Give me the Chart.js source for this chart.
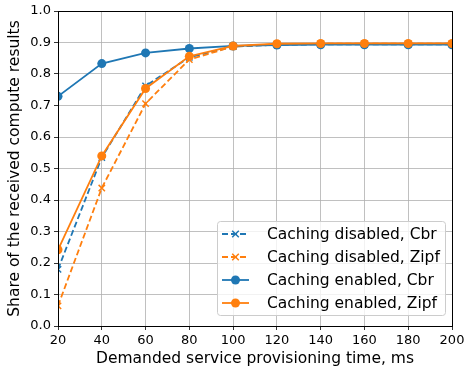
<!DOCTYPE html>
<html><head><meta charset="utf-8">
<script src="https://cdn.jsdelivr.net/npm/chart.js@4/dist/chart.umd.min.js"></script>
<style>html,body{margin:0;padding:0;background:#fff}#wrap{width:464px;height:371px}</style>
</head><body><div id="wrap"><canvas id="c" width="464" height="371"></canvas></div>
<script>
const times = [20, 40, 60, 80, 100, 120, 140, 160, 180, 200];
const disabledCbr  = [0.180, 0.535, 0.762, 0.853, 0.887, 0.893, 0.894, 0.894, 0.894, 0.894];
const disabledZipf = [0.064, 0.438, 0.706, 0.846, 0.887, 0.895, 0.896, 0.896, 0.896, 0.896];
const enabledCbr   = [0.729, 0.833, 0.867, 0.881, 0.889, 0.892, 0.893, 0.893, 0.893, 0.893];
const enabledZipf  = [0.242, 0.540, 0.754, 0.856, 0.889, 0.896, 0.897, 0.897, 0.897, 0.897];
const xTicks = [20, 40, 60, 80, 100, 120, 140, 160, 180, 200];
const yTicks = [0.0, 0.1, 0.2, 0.3, 0.4, 0.5, 0.6, 0.7, 0.8, 0.9, 1.0];
const seriesNames = ["Caching disabled, Cbr", "Caching disabled, Zipf", "Caching enabled, Cbr", "Caching enabled, Zipf"];

const BLUE = "#1f77b4", ORANGE = "#ff7f0e";
const FONT = "'DejaVu Sans', sans-serif";
function pts(arr){ return times.map((t,i)=>({x:t,y:arr[i]})); }
function ds(label, arr, color, dashed, marker, order){
  return {label, data: pts(arr), borderColor: color, backgroundColor: color,
    borderWidth: 1.8, borderDash: dashed ? [6,3] : [], pointStyle: marker,
    pointRadius: 4.5, pointBorderWidth: marker==='circle'?0:1.5,
    pointBorderColor: color, pointBackgroundColor: color, fill:false, tension:0, order};
}
const datasets = [
  ds(seriesNames[0], disabledCbr, BLUE, true, 'crossRot', 4),
  ds(seriesNames[1], disabledZipf, ORANGE, true, 'crossRot', 3),
  ds(seriesNames[2], enabledCbr, BLUE, false, 'circle', 2),
  ds(seriesNames[3], enabledZipf, ORANGE, false, 'circle', 1),
];

const framePlugin = {
  id: 'frame',
  afterDatasetsDraw(chart){
    const {ctx, chartArea:a} = chart;
    ctx.save();
    ctx.strokeStyle = '#000'; ctx.lineWidth = 1;
    ctx.strokeRect(Math.round(a.left)+0.5, Math.round(a.top)+0.5, Math.round(a.right-a.left), Math.round(a.bottom-a.top));
    ctx.restore();
  },
  afterDraw(chart){
    const {ctx, chartArea:a} = chart;
    const rowH = 23, boxW = 228, boxH = 94;
    const bx = a.right - 7 - boxW, by = a.bottom - 11 - boxH;
    ctx.save();
    ctx.fillStyle = 'rgba(255,255,255,0.8)';
    ctx.strokeStyle = '#cccccc'; ctx.lineWidth = 1;
    ctx.beginPath();
    if (ctx.roundRect) ctx.roundRect(bx+0.5, by+0.5, boxW, boxH, 3); else ctx.rect(bx+0.5, by+0.5, boxW, boxH);
    ctx.fill(); ctx.stroke();
    chart.data.datasets.forEach((d,i)=>{
      const cy = by + 13 + i*rowH;
      ctx.strokeStyle = d.borderColor; ctx.lineWidth = d.borderWidth;
      ctx.setLineDash(d.borderDash);
      ctx.beginPath(); ctx.moveTo(bx+5, cy); ctx.lineTo(bx+32, cy); ctx.stroke();
      ctx.setLineDash([]);
      const mx = bx+18.5;
      if (d.pointStyle === 'circle'){
        ctx.fillStyle = d.borderColor; ctx.beginPath(); ctx.arc(mx, cy, 4.5, 0, Math.PI*2); ctx.fill();
      } else {
        ctx.lineWidth = 1.5; const r = 3.3;
        ctx.beginPath(); ctx.moveTo(mx-r,cy-r); ctx.lineTo(mx+r,cy+r); ctx.moveTo(mx-r,cy+r); ctx.lineTo(mx+r,cy-r); ctx.stroke();
      }
      ctx.fillStyle = '#000'; ctx.font = "15.5px " + FONT; ctx.textBaseline = 'middle'; ctx.textAlign='left';
      ctx.fillText(d.label, bx+50, cy+1);
    });
    ctx.restore();
  }
};

new Chart(document.getElementById('c'), {
  type: 'line',
  data: { datasets },
  options: {
    responsive: false, animation: false, devicePixelRatio: 1,
    layout: { padding: { top: 11, right: 12, left: 0, bottom: 0 } },
    plugins: { legend: { display: false }, tooltip: { enabled: false } },
    scales: {
      x: {
        type: 'linear', min: 20, max: 200,
        afterFit(s){ s.height = 45; s.paddingRight = 0; s.paddingLeft = 0; },
        afterBuildTicks(s){ s.ticks = xTicks.map(v=>({value:v})); },
        ticks: { color: '#000', font: { family: FONT, size: 13 }, padding: 3, callback: v => String(v), maxRotation: 0 },
        grid: { color: '#b0b0b0', lineWidth: 0.8, tickLength: 4, tickColor: '#000', drawTicks: true },
        border: { display: false },
        title: { display: true, text: 'Demanded service provisioning time, ms', color: '#000', font: { family: FONT, size: 15.5 }, padding: { top: 1, bottom: 3 } }
      },
      y: {
        min: 0, max: 1,
        afterFit(s){ s.width = 58; s.paddingTop = 0; s.paddingBottom = 0; },
        afterBuildTicks(s){ s.ticks = yTicks.map(v=>({value:v})); },
        ticks: { color: '#000', font: { family: FONT, size: 13 }, padding: 3, callback: v => v.toFixed(1) },
        grid: { color: '#b0b0b0', lineWidth: 0.8, tickLength: 4, tickColor: '#000' },
        border: { display: false },
        title: { display: true, text: 'Share of the received compute results', color: '#000', font: { family: FONT, size: 15.5 }, padding: { top: 6, bottom: 2 } }
      }
    }
  },
  plugins: [framePlugin]
});
</script></body></html>
